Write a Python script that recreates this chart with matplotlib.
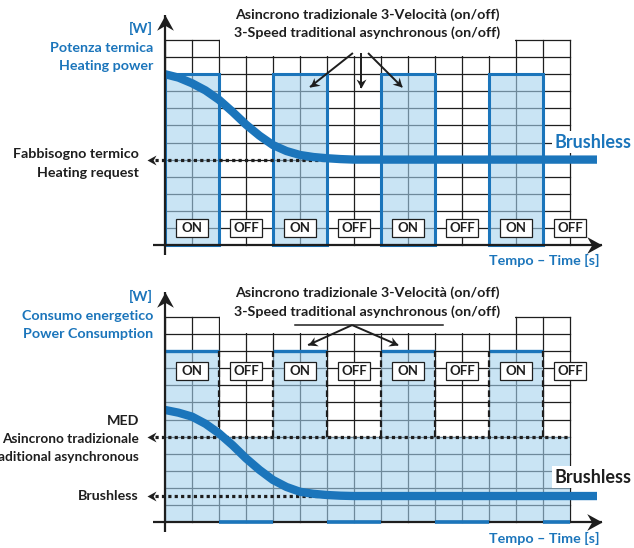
import numpy as np
import matplotlib.pyplot as plt
from matplotlib.patches import Rectangle
from matplotlib.markers import MarkerStyle
from matplotlib.path import Path
from matplotlib.transforms import Affine2D

BLUE = '#1b75bb'
FILL = '#a5d2ee'   # drawn at alpha .6 so grid lines show through grey
INK = '#1e1e1e'
FONT = ['Lato', 'DejaVu Sans']
FS = 10.3

# ---- data -------------------------------------------------------------
n_cols, n_rows = 15, 12
state_labels = ['ON', 'OFF', 'ON', 'OFF', 'ON', 'OFF', 'ON', 'OFF']
state_x = [1, 3, 5, 7, 9, 11, 13, 15]
on_spans = [(0, 2), (4, 6), (8, 10), (12, 14)]
off_spans = [(2, 4), (6, 8), (10, 12), (14, 15)]
on_level = 10
med_level = 5
heat_request = 5
brushless_level = 1.52

curve_x = [0, 0.5, 1, 1.5, 2, 2.5, 3, 3.5, 4, 4.5, 5, 5.5, 6, 6.5, 7, 16]
heat_power = [10.0, 9.8, 9.47, 9.05, 8.5, 7.8, 7.05, 6.4, 5.85, 5.5, 5.27,
              5.15, 5.08, 5.03, 5.0, 5.0]
power_cons = [6.56, 6.4, 6.17, 5.75, 5.19, 4.5, 3.73, 3.05, 2.46, 2.05, 1.77,
              1.65, 1.58, 1.54, 1.52, 1.52]

title_it = 'Asincrono tradizionale 3-Velocità (on/off)'
title_en = '3-Speed traditional asynchronous (on/off)'

# ---- layout (pixels of the 634x548 picture) ---------------------------
W, H = 634, 548
X0, CW, RH = 165, 27.0, 17.08

HEAD = Path([(0, 0), (-1, 0.55), (-0.68, 0), (-1, -0.55), (0, 0)],
            [Path.MOVETO, Path.LINETO, Path.LINETO, Path.LINETO, Path.CLOSEPOLY])


def make_axes(fig, top_px, bot_px, axis_px):
    ax = fig.add_axes([0, 1 - bot_px / H, 1, (bot_px - top_px) / H])
    ax.set_xlim(-X0 / CW, (W - X0) / CW)
    ax.set_ylim((axis_px - bot_px) / RH, (axis_px - top_px) / RH)
    ax.axis('off')
    return ax


def head(ax, x0, y0, x1, y1, size, color=INK, z=8):
    p0 = ax.transData.transform((x0, y0))
    p1 = ax.transData.transform((x1, y1))
    ang = np.degrees(np.arctan2(p1[1] - p0[1], p1[0] - p0[0]))
    m = MarkerStyle(HEAD, transform=Affine2D().rotate_deg(ang))
    ax.plot([x1], [y1], marker=m, ms=2 * size, color=color, mew=0, zorder=z)


def arrow(ax, x0, y0, x1, y1, lw=1.4, size=8, color=INK, z=8):
    ax.plot([x0, x1], [y0, y1], color=color, lw=lw, zorder=z,
            solid_capstyle='butt')
    head(ax, x0, y0, x1, y1, size, color, z)


def txt(ax, x, y, s, color=INK, size=FS, ha='right', **kw):
    ax.text(x, y, s, color=color, fontsize=size, ha=ha, va='center',
            family=FONT, fontweight='bold', zorder=10, **kw)


def grid(ax):
    for i in range(n_cols + 1):
        ax.plot([i, i], [0, n_rows], color=INK, lw=0.9, zorder=1)
    for j in range(1, n_rows + 1):
        ax.plot([0, n_cols], [j, j], color=INK, lw=0.9, zorder=1)
    # blank strip under the title
    ax.add_patch(Rectangle((2.04, 11.04), 10.92, 1.5, fc='white', ec='none',
                           zorder=1.5))


def axes_lines(ax):
    arrow(ax, 0, -0.6, 0, 13.47, lw=1.6, size=11)
    arrow(ax, -0.44, 0, 16.19, 0, lw=1.6, size=11)


def states(ax, yc):
    for x, s in zip(state_x, state_labels):
        ax.add_patch(Rectangle((x - 0.61, yc - 0.53), 1.22, 1.06, fc='white',
                               ec=INK, lw=0.9, zorder=6))
        ax.text(x, yc, s, fontsize=9.5, ha='center', va='center', color=INK,
                family=FONT, fontweight='bold', zorder=7)


def dotted(ax, x_end, y):
    tip = -0.67
    ax.plot([tip + 0.3, x_end], [y, y], color=INK, lw=2.3, ls=(0, (1, 1)),
            zorder=4)
    head(ax, x_end, y, tip, y, 6.5)


fig = plt.figure(figsize=(W / 100, H / 100), dpi=100)

# ---- top: heating power ----------------------------------------------
ax = make_axes(fig, 0, 270, 245)
grid(ax)
for a, b in on_spans:
    ax.add_patch(Rectangle((a, 0), b - a, on_level, fc=FILL, alpha=0.6,
                           ec='none', zorder=2))
    ax.add_patch(Rectangle((a, 0), b - a, on_level, fill=False, ec=BLUE,
                           lw=2.2, zorder=3))
dotted(ax, 6, heat_request)
ax.plot(curve_x, heat_power, color=BLUE, lw=6, solid_capstyle='butt',
        solid_joinstyle='round', zorder=5)
states(ax, 1.0)
axes_lines(ax)

arrow(ax, 6.96, 11.24, 5.37, 9.25, size=6.5)
arrow(ax, 7.26, 11.24, 7.26, 9.2, size=6.5)
arrow(ax, 7.52, 11.24, 8.78, 9.25, size=6.5)

txt(ax, 7.5, 13.47, title_it, ha='center')
txt(ax, 7.5, 12.41, title_en, ha='center')
txt(ax, -0.44, 12.7, '[W]', BLUE)
txt(ax, -0.44, 11.53, 'Potenza termica', BLUE)
txt(ax, -0.44, 10.48, 'Heating power', BLUE)
txt(ax, -0.96, 5.33, 'Fabbisogno termico')
txt(ax, -0.96, 4.22, 'Heating request')
txt(ax, 14.44, 6.03, 'Brushless', BLUE, size=13, ha='left',
    bbox=dict(fc='white', ec='none', pad=2))
txt(ax, 16.1, -0.88, 'Tempo – Time [s]', BLUE)

# ---- bottom: power consumption ---------------------------------------
ax = make_axes(fig, 270, 548, 522)
grid(ax)
for a, b in on_spans:
    ax.add_patch(Rectangle((a, 0), b - a, on_level, fc=FILL, alpha=0.6,
                           ec='none', zorder=2))
    ax.plot([a, b], [on_level, on_level], color=BLUE, lw=2.4, zorder=3,
            solid_capstyle='butt')
for a, b in off_spans:
    ax.add_patch(Rectangle((a, 0), b - a, med_level, fc=FILL, alpha=0.6,
                           ec='none', zorder=2))
for x in range(2, 15, 2):
    ax.plot([x, x], [med_level, on_level], color=INK, lw=1.6,
            ls=(0, (3, 1.5)), zorder=3)
dotted(ax, 15, med_level)
dotted(ax, 6, brushless_level)
ax.plot(curve_x, power_cons, color=BLUE, lw=6, solid_capstyle='butt',
        solid_joinstyle='round', zorder=5)
states(ax, 8.85)
axes_lines(ax)
for a, b in off_spans:
    ax.plot([a, b], [0, 0], color=BLUE, lw=2.6, zorder=9,
            solid_capstyle='butt')

ax.plot([4.81, 10.3], [11.53, 11.53], color=INK, lw=1.1, zorder=8)
arrow(ax, 6.93, 11.53, 5.3, 10.36, size=6.5)
arrow(ax, 6.93, 11.53, 8.63, 10.36, size=6.5)

txt(ax, 7.5, 13.4, title_it, ha='center')
txt(ax, 7.5, 12.3, title_en, ha='center')
txt(ax, -0.44, 13.19, '[W]', BLUE)
txt(ax, -0.44, 12.06, 'Consumo energetico', BLUE)
txt(ax, -0.44, 11.0, 'Power Consumption', BLUE)
txt(ax, -0.96, 5.91, 'MED')
txt(ax, -0.96, 4.86, 'Asincrono tradizionale', size=9.8)
txt(ax, -0.96, 3.8, '3-Speed traditional asynchronous', size=9.8)
txt(ax, -0.96, 1.52, 'Brushless')
txt(ax, 14.44, 2.63, 'Brushless', size=13, ha='left',
    bbox=dict(fc='white', ec='none', pad=2))
txt(ax, 16.1, -0.94, 'Tempo – Time [s]', BLUE)

fig.savefig('out.png', dpi=100)
